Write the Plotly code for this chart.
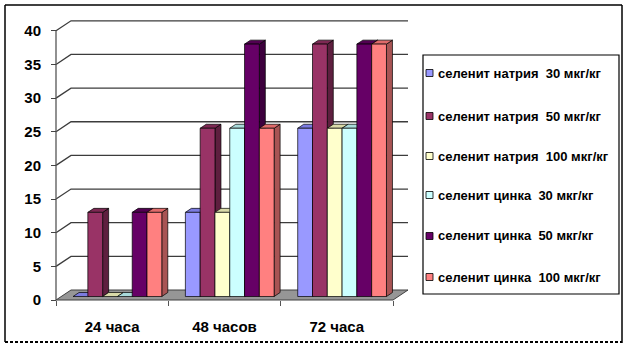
import plotly.graph_objects as go

# ---- data -------------------------------------------------------------
categories = ["24 часа", "48 часов", "72 часа"]
series_names = [
    "селенит натрия  30 мкг/кг",
    "селенит натрия  50 мкг/кг",
    "селенит натрия  100 мкг/кг",
    "селенит цинка  30 мкг/кг",
    "селенит цинка  50 мкг/кг",
    "селенит цинка  100 мкг/кг",
]
natrium_30 = [0, 12.5, 25]
natrium_50 = [12.5, 25, 37.5]
natrium_100 = [0, 12.5, 25]
zinc_30 = [0, 25, 25]
zinc_50 = [12.5, 37.5, 37.5]
zinc_100 = [12.5, 25, 37.5]
y_ticks = [0, 5, 10, 15, 20, 25, 30, 35, 40]

series_values = [natrium_30, natrium_50, natrium_100, zinc_30, zinc_50, zinc_100]

# ---- styling ----------------------------------------------------------
front_col = ["#9999FF", "#993366", "#FFFFCC", "#CCFFFF", "#660066", "#FF8080"]
top_col = ["#7B7BE0", "#7D2853", "#DADAA8", "#A8DADA", "#520052", "#E06A6A"]
side_col = ["#5E5EA3", "#5E1F3F", "#A3A37C", "#7CA3A3", "#3D003D", "#A85454"]

FONT = "Liberation Sans, Arial, sans-serif"
W, H = 628, 348
ML, MR, MT, MB = 50, 208, 14, 40          # plot area 50..420 x 14..308 px

# pixel anchors of the front plane: category -0.5 at 56px, 2.5 at 393px; value 0 at 300px
PX_X = (393 - 56) / 3.0
PX_Y = 6.73
x_lo = -0.5 - (56 - ML) / PX_X
x_hi = -0.5 + (W - MR - 56) / PX_X
y_lo = -((H - MB) - 300) / PX_Y
y_hi = (300 - MT) / PX_Y

DX = 15 / PX_X      # depth of the floor, x direction
DY = 10 / PX_Y      # depth of the floor, y direction
F0, F1 = 0.35, 0.75  # bar depth span as fraction of floor depth
GROUP = 0.79
BW = GROUP / len(series_values)

pw = W - ML - MR
ph = H - MT - MB


def px(xp):
    return (xp - ML) / pw


def py(yp):
    return (H - MB - yp) / ph


fig = go.Figure()


def poly(xs, ys, fill, lc="#000000", lw=0.7):
    fig.add_trace(go.Scatter(
        x=xs + [xs[0]], y=ys + [ys[0]], mode="lines", fill="toself",
        fillcolor=fill, line=dict(color=lc, width=lw),
        hoverinfo="skip", showlegend=False))


# walls: gridlines running from the front axis to the back wall
gx, gy = [], []
for v in y_ticks[1:]:
    gx += [-0.5, -0.5 + DX, 2.5 + DX, None]
    gy += [v, v + DY, v + DY, None]
fig.add_trace(go.Scatter(x=gx, y=gy, mode="lines",
                         line=dict(color="#3c3c3c", width=1.3),
                         hoverinfo="skip", showlegend=False))

# front value axis line
fig.add_trace(go.Scatter(x=[-0.5, -0.5], y=[0, y_ticks[-1]], mode="lines",
                         line=dict(color="#555555", width=1.3),
                         hoverinfo="skip", showlegend=False))

# floor
poly([-0.5, -0.5 + DX, 2.5 + DX, 2.5], [0, DY, DY, 0], "#969696", "#404040", 1.0)

# 3-D columns: side, top, then front face, left to right
ddx = (F1 - F0) * DX
ddy = (F1 - F0) * DY
for i in range(len(categories)):
    for k, vals in enumerate(series_values):
        v = vals[i]
        x0 = i - GROUP / 2 + k * BW + F0 * DX
        x1 = x0 + BW
        b = F0 * DY
        t = b + v
        if v > 0:
            poly([x1, x1 + ddx, x1 + ddx, x1], [b, b + ddy, t + ddy, t], side_col[k])
        poly([x0, x1, x1 + ddx, x0 + ddx], [t, t, t + ddy, t + ddy], top_col[k])
        if v > 0:
            poly([x0, x1, x1, x0], [b, b, t, t], front_col[k])

fig.update_xaxes(
    range=[x_lo, x_hi], tickvals=[0, 1, 2], ticktext=categories,
    ticks="", showgrid=False, zeroline=False, showline=False,
    anchor="free", position=py(300), ticklabelstandoff=16,
    tickfont=dict(family=FONT, size=15, color="#000", weight="bold"),
    minor=dict(tickvals=[-0.5, 0.5, 1.5, 2.5], ticks="outside", ticklen=5,
               tickcolor="#555555", tickwidth=1.3),
)
fig.update_yaxes(
    range=[y_lo, y_hi], tickvals=y_ticks, ticks="outside", ticklen=5,
    tickcolor="#444444", tickwidth=1.3,
    showgrid=False, zeroline=False, showline=False,
    anchor="free", position=px(56), ticklabelstandoff=7,
    tickfont=dict(family=FONT, size=15, color="#000", weight="bold"),
)

shapes = []
# outer frame (bottom edge dashed)
shapes.append(dict(type="line", xref="paper", yref="paper", x0=px(5), x1=px(5), y0=py(5), y1=py(342),
                   line=dict(color="#000", width=1.5)))
shapes.append(dict(type="line", xref="paper", yref="paper", x0=px(5), x1=px(622), y0=py(5), y1=py(5),
                   line=dict(color="#000", width=1.5)))
shapes.append(dict(type="line", xref="paper", yref="paper", x0=px(622), x1=px(622), y0=py(5), y1=py(343),
                   line=dict(color="#000", width=1.5)))
shapes.append(dict(type="line", xref="paper", yref="paper", x0=px(5), x1=px(622), y0=py(342), y1=py(342),
                   line=dict(color="#000", width=2, dash="3px,2px")))

# legend box
shapes.append(dict(type="rect", xref="paper", yref="paper", x0=px(423), x1=px(619), y0=py(55), y1=py(294),
                   line=dict(color="#000", width=1.2), fillcolor="#ffffff"))
annotations = []
legend_y = [73, 116, 156, 195, 236, 277]
for k, name in enumerate(series_names):
    yc = legend_y[k]
    shapes.append(dict(type="rect", xref="paper", yref="paper",
                       x0=px(426), x1=px(433), y0=py(yc - 3.5), y1=py(yc + 3.5),
                       line=dict(color="#000", width=0.8), fillcolor=front_col[k]))
    annotations.append(dict(xref="paper", yref="paper", x=px(436), y=py(yc), text=name,
                            showarrow=False, xanchor="left", yanchor="middle",
                            font=dict(family=FONT, size=13, color="#000", weight="bold")))

fig.update_layout(
    width=W, height=H, margin=dict(l=ML, r=MR, t=MT, b=MB),
    paper_bgcolor="#ffffff", plot_bgcolor="rgba(0,0,0,0)",
    showlegend=False, shapes=shapes, annotations=annotations,
)

fig.write_html("out.html")
